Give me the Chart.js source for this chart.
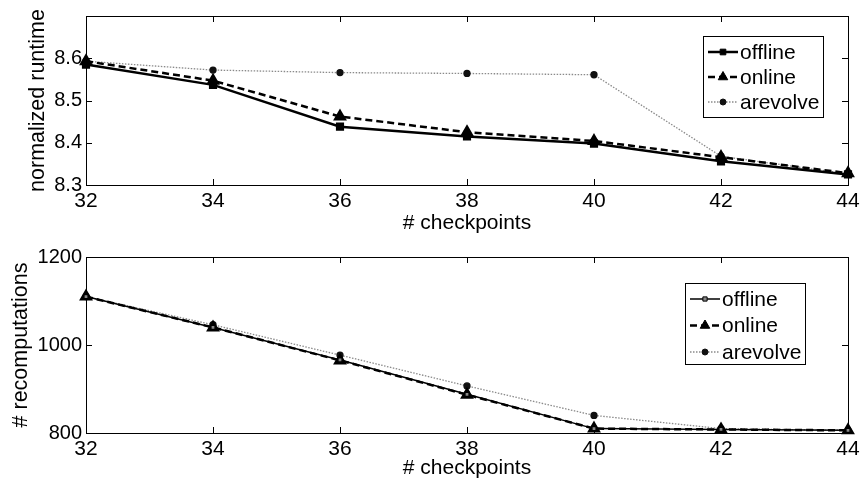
<!DOCTYPE html>
<html>
<head>
<meta charset="utf-8">
<script src="https://cdn.jsdelivr.net/npm/chart.js@4/dist/chart.umd.min.js"></script>
<style>
  body { margin: 0; background: #fff; }
  .wrap { width: 860px; position: relative; }
</style>
</head>
<body>
<div class="wrap"><canvas id="runtimeChart" width="860" height="240"></canvas></div>
<div class="wrap"><canvas id="recompChart" width="860" height="243"></canvas></div>
<script>
// données
const checkpoints = [32, 34, 36, 38, 40, 42, 44];

const runtimeOffline = [8.585, 8.537, 8.438, 8.415, 8.398, 8.356, 8.325];
const runtimeOnline = [8.593, 8.547, 8.462, 8.425, 8.404, 8.366, 8.328];
const runtimeArevolve = [8.593, 8.572, 8.566, 8.564, 8.561, 8.368, 8.326];

const recompOffline = [1110, 1040, 966, 888, 810, 808, 806];
const recompOnline = [1110, 1040, 965, 887, 810, 808, 806];
const recompArevolve = [1110, 1046, 977, 907, 840, 810, 806];

const runtimeTicks = [8.3, 8.4, 8.5, 8.6];
const recompTicks = [800, 1000, 1200];

const FONT = '"Liberation Sans", Arial, Helvetica, sans-serif';

const toPoints = (vals) => vals.map((v, i) => ({ x: checkpoints[i], y: v }));

// cadre + petits traits vers l'intérieur
const framePlugin = {
  id: "frame",
  beforeDatasetsDraw(chart) {
    const { ctx, chartArea: a, scales } = chart;
    ctx.save();
    ctx.strokeStyle = "#000";
    ctx.lineWidth = 1;
    ctx.strokeRect(a.left + 0.5, a.top + 0.5, a.right - a.left, a.bottom - a.top);
    ctx.beginPath();
    scales.x.ticks.forEach((t) => {
      if (t.value <= scales.x.min || t.value >= scales.x.max) return;
      const px = Math.round(scales.x.getPixelForValue(t.value)) + 0.5;
      ctx.moveTo(px, a.bottom); ctx.lineTo(px, a.bottom - 6);
      ctx.moveTo(px, a.top); ctx.lineTo(px, a.top + 6);
    });
    scales.y.ticks.forEach((t) => {
      if (t.value <= scales.y.min || t.value >= scales.y.max) return;
      const py = Math.round(scales.y.getPixelForValue(t.value)) + 0.5;
      ctx.moveTo(a.left, py); ctx.lineTo(a.left + 6, py);
      ctx.moveTo(a.right, py); ctx.lineTo(a.right - 6, py);
    });
    ctx.stroke();
    ctx.restore();
  }
};

// légende encadrée style matlab
const boxLegend = {
  id: "boxLegend",
  afterDatasetsDraw(chart, args, opts) {
    const { ctx, chartArea } = chart;
    const x0 = chartArea.right - opts.right;
    const y0 = chartArea.top + opts.top;
    ctx.save();
    ctx.fillStyle = "#fff";
    ctx.fillRect(x0, y0, opts.width, opts.height);
    ctx.strokeStyle = "#000";
    ctx.lineWidth = 1;
    ctx.strokeRect(x0 + 0.5, y0 + 0.5, opts.width, opts.height);
    chart.data.datasets.forEach((ds, i) => {
      const cy = y0 + opts.firstRow + i * opts.rowGap;
      ctx.setLineDash(ds.borderDash || []);
      ctx.strokeStyle = ds.borderColor;
      ctx.lineWidth = ds.borderWidth;
      ctx.beginPath();
      ctx.moveTo(x0 + 5, cy);
      ctx.lineTo(x0 + 35, cy);
      ctx.stroke();
      ctx.setLineDash([]);
      ctx.fillStyle = ds.pointBackgroundColor;
      ctx.strokeStyle = ds.pointBorderColor;
      ctx.lineWidth = 1;
      Chart.helpers.drawPoint(ctx, { pointStyle: ds.pointStyle, radius: ds.pointRadius, borderWidth: 1, rotation: 0 }, x0 + 20, cy);
      ctx.fillStyle = "#000";
      ctx.font = "21px " + FONT;
      ctx.textBaseline = "middle";
      ctx.textAlign = "left";
      ctx.fillText(ds.label, x0 + 37, cy + 1);
    });
    ctx.restore();
  }
};

function makeChart(id, cfg) {
  const ctx = document.getElementById(id).getContext("2d");
  return new Chart(ctx, {
    type: "line",
    data: {
      datasets: [
        {
          label: "offline",
          data: toPoints(cfg.offline),
          borderColor: "#000",
          borderWidth: cfg.offlineWidth,
          pointStyle: "rect",
          pointRadius: cfg.offlineRadius,
          pointBackgroundColor: cfg.offlineFill,
          pointBorderColor: "#000",
          clip: false
        },
        {
          label: "online",
          data: toPoints(cfg.online),
          borderColor: "#000",
          borderWidth: 2.5,
          borderDash: [7, 4],
          pointStyle: "triangle",
          pointRadius: 5.5,
          pointBackgroundColor: "#000",
          pointBorderColor: "#000",
          clip: false
        },
        {
          label: "arevolve",
          data: toPoints(cfg.arevolve),
          borderColor: "#8a8a8a",
          borderWidth: 1.3,
          borderDash: [1.5, 1.5],
          pointStyle: "circle",
          pointRadius: 3,
          pointBackgroundColor: "#111",
          pointBorderColor: "#111",
          clip: false
        }
      ]
    },
    options: {
      responsive: false,
      animation: false,
      tension: 0,
      layout: { padding: { left: 0, right: 12, top: cfg.padTop, bottom: 0 } },
      plugins: {
        legend: { display: false },
        tooltip: { enabled: false },
        boxLegend: cfg.legendBox
      },
      scales: {
        x: {
          type: "linear",
          min: 32,
          max: 44,
          grid: { display: false, drawTicks: false },
          border: { display: false },
          ticks: { stepSize: 2, padding: 4, color: "#000", font: { family: FONT, size: 21 } },
          title: {
            display: true,
            text: "# checkpoints",
            color: "#000",
            font: { family: FONT, size: 21 },
            padding: { top: 0, bottom: cfg.xTitlePad }
          },
          afterFit: (s) => { s.height = cfg.xHeight; s.paddingLeft = 0; s.paddingRight = 0; }
        },
        y: {
          min: cfg.yMin,
          max: cfg.yMax,
          grid: { display: false, drawTicks: false },
          border: { display: false },
          afterBuildTicks: (s) => { s.ticks = cfg.yTicks.map((v) => ({ value: v })); },
          ticks: {
            padding: 4,
            color: "#000",
            font: { family: FONT, size: 20 },
            callback: cfg.yFormat
          },
          title: {
            display: true,
            text: cfg.yTitle,
            color: "#000",
            font: { family: FONT, size: 21.5 },
            padding: { top: cfg.yTitlePad, bottom: 0 }
          },
          afterFit: (s) => { s.width = 86; }
        }
      }
    },
    plugins: [framePlugin, boxLegend]
  });
}

makeChart("runtimeChart", {
  offline: runtimeOffline,
  online: runtimeOnline,
  arevolve: runtimeArevolve,
  offlineWidth: 2.5,
  offlineRadius: 4,
  offlineFill: "#000",
  padTop: 14,
  xHeight: 55,
  xTitlePad: 4,
  yMin: 8.3,
  yMax: 8.7,
  yTicks: runtimeTicks,
  yFormat: (v) => Number(v).toFixed(1),
  yTitle: "normalized runtime",
  yTitlePad: 25,
  legendBox: { right: 145, top: 20, width: 120, height: 81, firstRow: 16, rowGap: 25 }
});

makeChart("recompChart", {
  offline: recompOffline,
  online: recompOnline,
  arevolve: recompArevolve,
  offlineWidth: 1.5,
  offlineRadius: 3,
  offlineFill: "#888",
  padTop: 17,
  xHeight: 50,
  xTitlePad: 2,
  yMin: 800,
  yMax: 1200,
  yTicks: recompTicks,
  yFormat: (v) => String(v),
  yTitle: "# recomputations",
  yTitlePad: 8,
  legendBox: { right: 163, top: 26, width: 120, height: 81, firstRow: 16, rowGap: 26.5 }
});
</script>
</body>
</html>
